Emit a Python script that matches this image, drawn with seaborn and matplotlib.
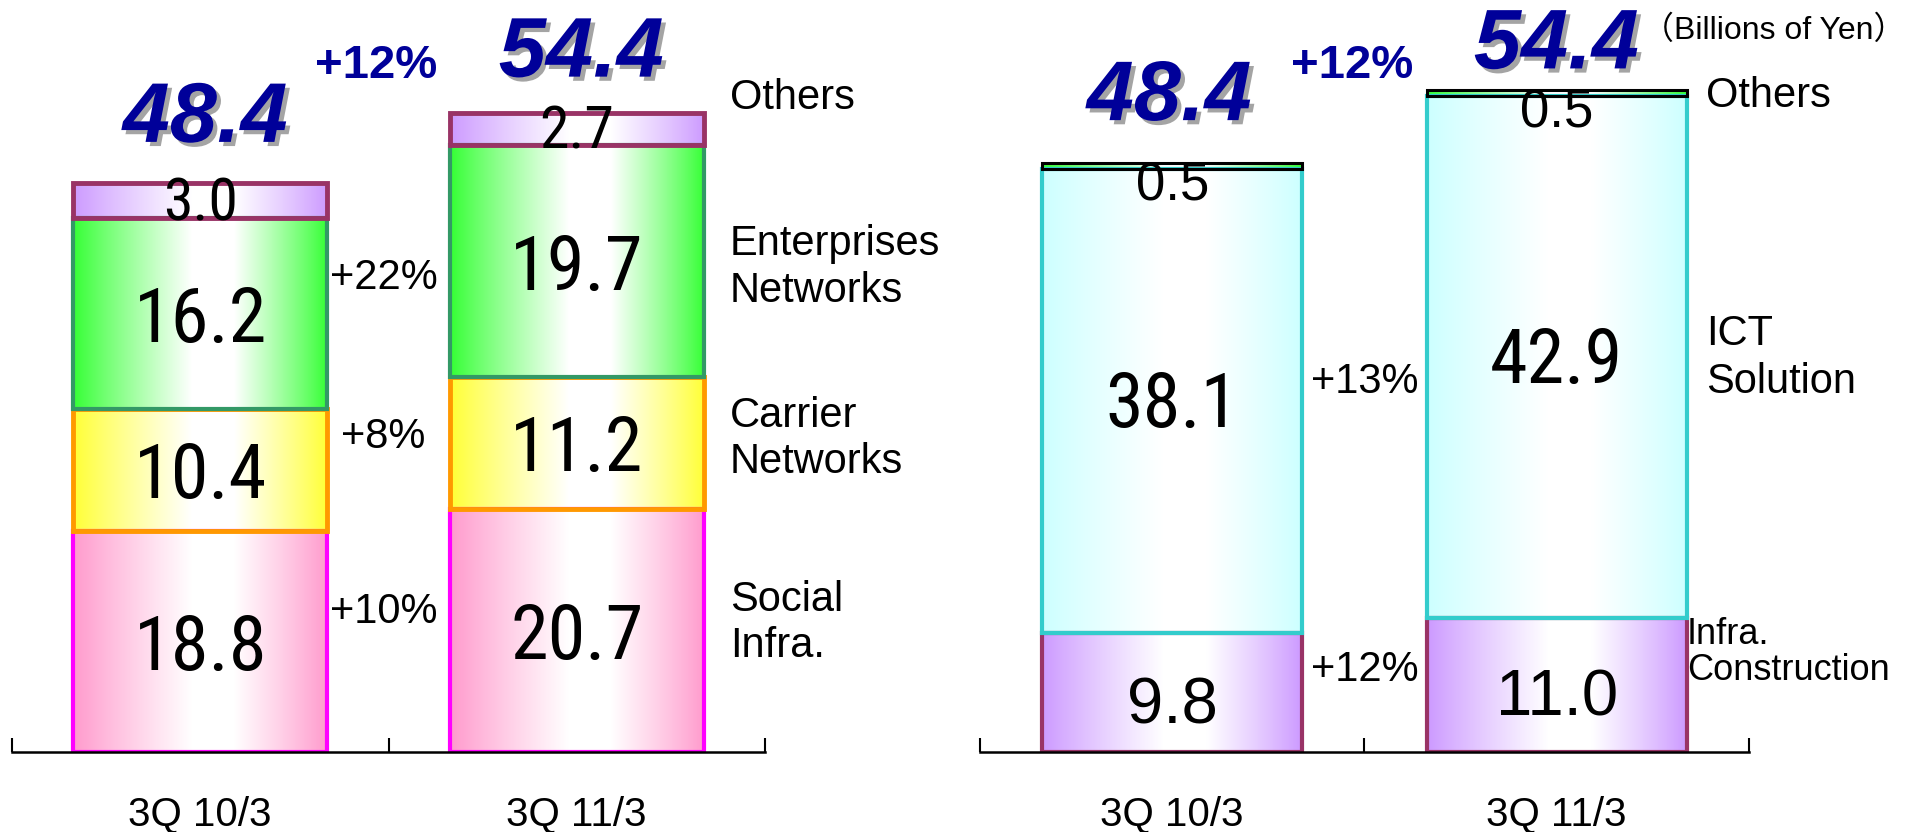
import numpy as np
import matplotlib
matplotlib.use("Agg")
import matplotlib.pyplot as plt
import matplotlib.patheffects as pe
from matplotlib.colors import to_rgb
from matplotlib import font_manager as fm
import seaborn as sns

# ---------------- data ----------------
periods = ["3Q 10/3", "3Q 11/3"]
totals = [48.4, 54.4]
total_growth = "+12%"

# left panel (by business)
social_infra = [18.8, 20.7]
carrier_networks = [10.4, 11.2]
enterprise_networks = [16.2, 19.7]
others_left = [3.0, 2.7]
left_names = ["Social\nInfra.", "Carrier\nNetworks", "Enterprises\nNetworks", "Others"]
left_growth = ["+10%", "+8%", "+22%"]

# right panel (by category)
infra_construction = [9.8, 11.0]
ict_solution = [38.1, 42.9]
others_right = [0.5, 0.5]
right_names = ["Infra.\nConstruction", "ICT\nSolution", "Others"]
right_growth = ["+12%", "+13%"]
unit_label = "（Billions of Yen）"

# ---------------- style ----------------
sns.set_style("white")
plt.rcParams["font.family"] = ["Liberation Sans", "Noto Sans CJK JP", "DejaVu Sans"]


def find_narrow():
    names = {f.name for f in fm.fontManager.ttflist}
    for nm in ["Liberation Sans Narrow", "Arial Narrow", "Roboto Condensed",
               "Open Sans Condensed", "Noto Sans Condensed", "DejaVu Sans Condensed"]:
        if nm in names:
            return dict(family=nm), True
    for fam in ["Liberation Sans", "Roboto", "Noto Sans", "Open Sans", "DejaVu Sans"]:
        for f in fm.fontManager.ttflist:
            if f.name == fam and f.stretch in ("condensed", "semi-condensed") \
                    and f.style == "normal" and f.weight in (400, "normal", "regular"):
                return dict(family=fam, stretch=f.stretch), True
    return dict(family="Liberation Sans"), False


NARROW, HAVE_NARROW = find_narrow()
BIG = 55 if HAVE_NARROW else 50
MID = 43 if HAVE_NARROW else 40
NAVY = "#000099"

W, H = 1914, 832
fig = plt.figure(figsize=(W / 100, H / 100), dpi=100)
base_px = 752
axL = fig.add_axes([12 / W, (H - base_px) / H, (765 - 12) / W, base_px / H])
axR = fig.add_axes([980 / W, (H - base_px) / H, (1749 - 980) / W, base_px / H])
YTOP_L = base_px / 11.76
YTOP_R = base_px / 12.165


def gradient(color, peak=0.56, n=256):
    c = np.array(to_rgb(color))
    t = np.linspace(0, 1, n)
    f = np.where(t < peak, t / peak, (1 - t) / (1 - peak))
    f = np.clip(f * 1.2, 0, 1) ** 0.9
    arr = c[None, :] * (1 - f[:, None]) + f[:, None]
    return arr[None, :, :]


def draw_stack(ax, segs):
    bottom = np.zeros(len(periods))
    for vals, face, edge, lw in segs:
        vals = np.asarray(vals, dtype=float)
        n0 = len(ax.patches)
        sns.barplot(x=periods, y=vals, bottom=bottom.copy(), color=face, width=0.675,
                    edgecolor=edge, linewidth=lw, errorbar=None, ax=ax, zorder=3)
        for p in ax.patches[n0:]:
            x0, y0, w, h = p.get_x(), p.get_y(), p.get_width(), p.get_height()
            ax.imshow(gradient(face), extent=[x0, x0 + w, y0, y0 + h], aspect="auto",
                      zorder=2, interpolation="bilinear")
            p.set_facecolor("none")
        bottom += vals


def style_axis(ax, ytop):
    ax.set_xlim(-0.5, 1.5)
    ax.set_ylim(0, ytop)
    ax.set_yticks([])
    ax.set_xlabel("")
    ax.set_ylabel("")
    for s in ["left", "right", "top"]:
        ax.spines[s].set_visible(False)
    ax.spines["bottom"].set_linewidth(1.8)
    ax.spines["bottom"].set_color("black")
    ax.spines["bottom"].set_zorder(4)
    ax.set_xticks([0, 1])
    ax.set_xticklabels(periods, fontsize=29)
    ax.tick_params(axis="x", which="major", length=0, pad=31, colors="black")
    ax.set_xticks([-0.5, 0.5, 1.5], minor=True)
    ax.tick_params(axis="x", which="minor", direction="in", length=10, width=1.5,
                   color="black", bottom=True)
    ax.set_facecolor("none")


shadow = [pe.withSimplePatchShadow(offset=(3, -3), shadow_rgbFace="#9a9a9a", alpha=0.9)]
tot_kw = dict(ha="center", va="center", fontsize=61, fontweight="bold",
              fontstyle="italic", color=NAVY, path_effects=shadow, zorder=6)

# ---------------- left panel ----------------
left_segs = [
    (social_infra, "#FF99CC", "#FF00FF", 3.0),
    (carrier_networks, "#FFFF33", "#FF9900", 3.5),
    (enterprise_networks, "#33FF33", "#339966", 3.0),
    (others_left, "#CC99FF", "#993366", 3.5),
]
draw_stack(axL, left_segs)
style_axis(axL, YTOP_L)

cum = np.zeros(2)
for k, (vals, *_rest) in enumerate(left_segs):
    for i, v in enumerate(vals):
        fs = BIG if v >= 5 else MID
        dy = 0.25 if v < 5 else 0.0
        axL.text(i, cum[i] + v / 2 + dy, f"{v:.1f}", ha="center", va="center_baseline",
                 fontsize=fs, color="black", zorder=6, **NARROW)
    cum += np.asarray(vals)

name_y_left = [11.0, 26.6, 41.2, 55.6]
for name, y in zip(left_names, name_y_left):
    axL.text(1.407, y, name, ha="left", va="center", fontsize=30,
             linespacing=1.2, color="black")
for g, y in zip(left_growth, [11.9, 26.8, 40.3]):
    axL.text(0.487, y, g, ha="center", va="center", fontsize=30, color="black")

axL.text(0.013, totals[0] + 5.35, f"{totals[0]:.1f}", **tot_kw)
axL.text(1.012, totals[1] + 4.9, f"{totals[1]:.1f}", **tot_kw)
axL.text(0.467, 58.3, total_growth, ha="center", va="center", fontsize=34,
         fontweight="bold", color=NAVY)

# ---------------- right panel ----------------
right_segs = [
    (infra_construction, "#CC99FF", "#993366", 3.0),
    (ict_solution, "#CCFFFF", "#33CCCC", 3.0),
    (others_right, "#33FF33", "#000000", 2.2),
]
draw_stack(axR, right_segs)
style_axis(axR, YTOP_R)

cum = np.zeros(2)
for k, (vals, *_rest) in enumerate(right_segs):
    for i, v in enumerate(vals):
        if v < 1:
            y, fs, fkw = cum[i] + v - 1.5, 38, dict(family="Liberation Sans")
        elif v < 15:
            y, fs, fkw = cum[i] + v / 2 - 0.6, 47, dict(family="Liberation Sans")
        else:
            y, fs, fkw = cum[i] + v / 2 + 0.2, BIG, NARROW
        axR.text(i, y, f"{v:.1f}", ha="center", va="center_baseline",
                 fontsize=fs, color="black", zorder=6, **fkw)
    cum += np.asarray(vals)

axR.text(1.339, 8.2, right_names[0], ha="left", va="center", fontsize=26,
         linespacing=1.05, color="black")
axR.text(1.389, 32.4, right_names[1], ha="left", va="center", fontsize=30,
         linespacing=1.25, color="black")
axR.text(1.389, 53.9, right_names[2], ha="left", va="center", fontsize=30,
         color="black")
for g, y in zip(right_growth, [6.74, 30.4]):
    axR.text(0.5, y, g, ha="center", va="center", fontsize=30, color="black")

axR.text(-0.008, totals[0] + 5.35, f"{totals[0]:.1f}", **tot_kw)
axR.text(0.999, totals[1] + 3.6, f"{totals[1]:.1f}", **tot_kw)
axR.text(0.468, 56.4, total_growth, ha="center", va="center", fontsize=34,
         fontweight="bold", color=NAVY)
axR.text(1.564, 59.3, unit_label, ha="center", va="center", fontsize=23,
         family=["Liberation Sans", "Noto Sans CJK JP"], color="black")

fig.savefig("out.png", dpi=100, facecolor="white")
